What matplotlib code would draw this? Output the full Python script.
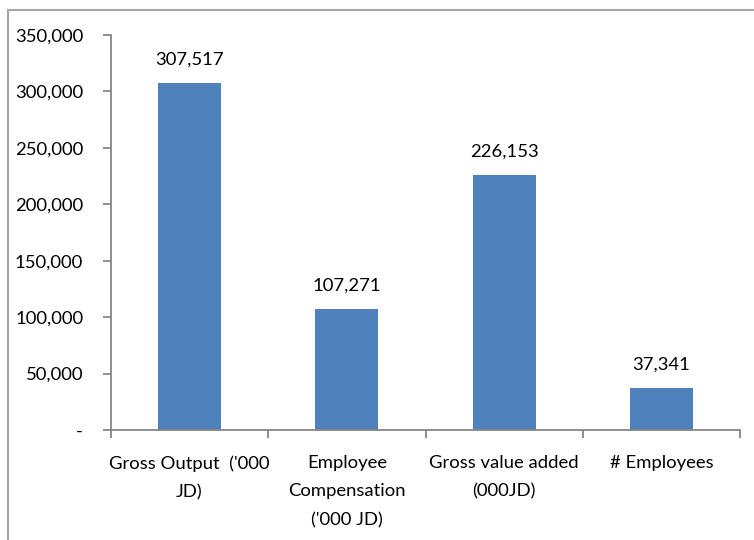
import matplotlib
matplotlib.use("Agg")
import matplotlib.pyplot as plt
from matplotlib.lines import Line2D
from matplotlib.ticker import FuncFormatter, FixedLocator

categories = ["Gross Output  ('000\nJD)", "Employee\nCompensation\n('000 JD)",
              "Gross value added\n(000JD)", "# Employees"]
values = [307517, 107271, 226153, 37341]
y_ticks = [0, 50000, 100000, 150000, 200000, 250000, 300000, 350000]

plt.rcParams['font.family'] = ['Lato', 'DejaVu Sans']

fig = plt.figure(figsize=(7.54, 5.40), dpi=100)
ax = fig.add_axes([111/754, 1 - 430/540, (740 - 111)/754, (430 - 35)/540])

axis_grey = "#868686"
bar_blue = "#4F81BD"
fs = 13.3

x = [i + 0.5 for i in range(len(values))]
bars = ax.bar(x, values, width=0.4, color=bar_blue, zorder=2)

for xi, v in zip(x, values):
    ax.annotate(f"{v:,}", (xi, v), xytext=(0, 11), textcoords="offset points",
                ha="center", va="bottom", fontsize=fs, color="#000000")

ax.set_xlim(0, len(values))
ax.set_ylim(0, 350000)
ax.set_yticks(y_ticks)
ax.yaxis.set_major_formatter(FuncFormatter(lambda v, p: "-" if v == 0 else f"{int(v):,}"))

ax.xaxis.set_major_locator(FixedLocator(list(range(len(values) + 1))))
ax.xaxis.set_major_formatter(FuncFormatter(lambda v, p: ""))
ax.xaxis.set_minor_locator(FixedLocator(x))
ax.set_xticklabels(categories, minor=True, linespacing=1.95)
ax.tick_params(axis="x", which="minor", length=0, pad=18, labelsize=fs)
ax.tick_params(axis="x", which="major", length=6, width=1.3, color=axis_grey, direction="out")
ax.tick_params(axis="y", length=6, width=1.3, color=axis_grey, direction="out",
               labelsize=fs, pad=14)

for side in ["top", "right"]:
    ax.spines[side].set_visible(False)
for side in ["left", "bottom"]:
    ax.spines[side].set_color(axis_grey)
    ax.spines[side].set_linewidth(1.3)

# outer chart-area frame
frame_grey = "#a6a6a6"
fig.add_artist(Line2D([8/754, 8/754], [0, 1 - 10/540], transform=fig.transFigure,
                      color=frame_grey, linewidth=1.5))
fig.add_artist(Line2D([8/754, 1], [1 - 10/540, 1 - 10/540], transform=fig.transFigure,
                      color=frame_grey, linewidth=1.5))

fig.savefig("out.png", dpi=100)
